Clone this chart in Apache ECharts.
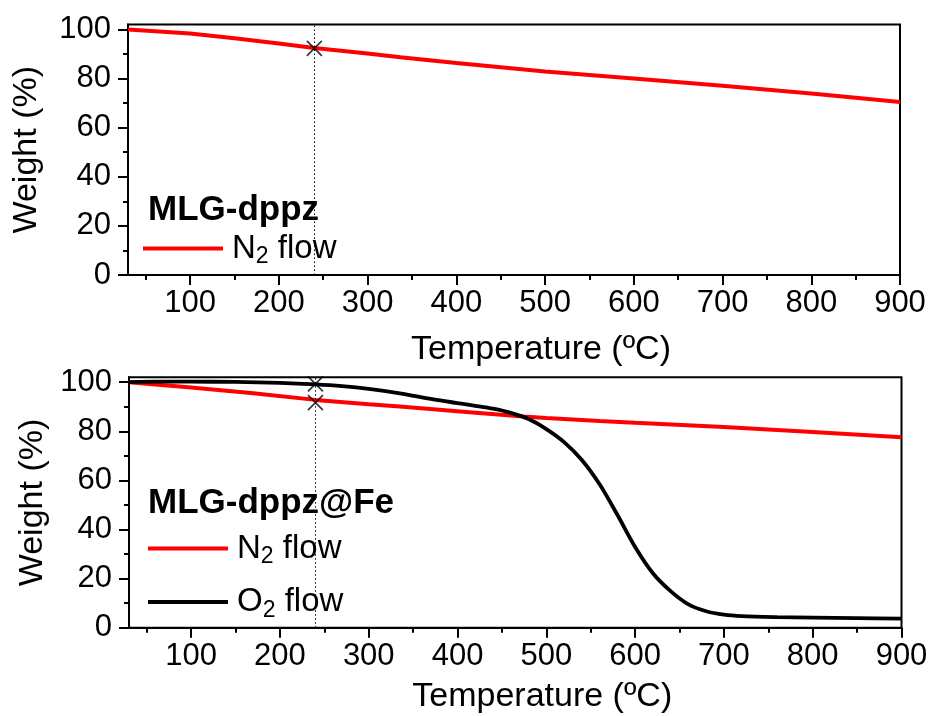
<!DOCTYPE html>
<html><head><meta charset="utf-8">
<script src="https://cdn.jsdelivr.net/npm/echarts@6/dist/echarts.min.js"></script>
<style>html,body{margin:0;padding:0;background:#fff}#c{width:931px;height:716px}</style>
</head><body><div id="c"></div>
<script>
// ---- data ----
const xTicks = [100, 200, 300, 400, 500, 600, 700, 800, 900];
const xMinorTicks = [50, 150, 250, 350, 450, 550, 650, 750, 850];
const yTicks = [0, 20, 40, 60, 80, 100];
const yMinorTicks = [10, 30, 50, 70, 90];

const topN2Temp   = [30, 100, 150, 200, 240, 300, 337, 400, 500, 600, 700, 800, 900];
const topN2Weight = [100, 98.3, 96.4, 94.3, 92.4, 90.2, 88.7, 86.3, 82.9, 80.0, 77.1, 73.9, 70.4];

const botN2Temp   = [30, 100, 170, 240, 300, 335, 410, 474, 500, 560, 600, 602, 700, 800, 900];
const botN2Weight = [100, 97.8, 95.5, 92.8, 91.0, 90.1, 87.9, 86.0, 85.4, 84.2, 83.5, 84.1, 81.8, 79.7, 77.6];

const botO2Temp   = [30, 60, 100, 150, 200, 240, 270, 300, 335, 373, 400, 420, 440, 460, 480, 500, 520, 540, 560, 580, 600, 620, 640, 660, 680, 700, 720, 760, 800, 850, 900];
const botO2Weight = [100, 100.2, 100.2, 100.1, 99.7, 99.1, 98.4, 97.3, 95.5, 93.0, 91.5, 90.4, 89.2, 87.5, 85.0, 80.9, 75.6, 68.3, 58.4, 46.0, 32.9, 22.2, 14.9, 9.5, 6.7, 5.3, 4.7, 4.3, 4.1, 3.9, 3.7];

const markTemp = 240;
const topMarkWeights = [92.3];
const botMarkWeights = [99.3, 91.7];

const xMin = 30, xMax = 900, yMin = 0, yMax = 102;

// ---- build ----
const FONT = "'Liberation Sans', Arial, sans-serif";
const pairs = (xs, ys) => xs.map((x, i) => [x, ys[i]]);

function xAxes(gridIndex, nameGap, namePad) {
  return [
    { type: 'value', gridIndex, min: xMin, max: xMax, position: 'bottom',
      name: 'Temperature (ºC)', nameLocation: 'middle', nameGap,
      nameTextStyle: { fontSize: 34, color: '#000', fontFamily: FONT, padding: namePad },
      axisLine: { show: true, onZero: false, lineStyle: { color: '#000', width: 2 } },
      axisTick: { show: true, inside: false, length: 10, customValues: xTicks, lineStyle: { color: '#000', width: 2 } },
      axisLabel: { customValues: xTicks, fontSize: 31, color: '#000', fontFamily: FONT, margin: 13 },
      splitLine: { show: false } },
    { type: 'value', gridIndex, min: xMin, max: xMax, position: 'bottom',
      axisLine: { show: false, onZero: false },
      axisTick: { show: true, inside: false, length: 5, customValues: xMinorTicks, lineStyle: { color: '#000', width: 2 } },
      axisLabel: { show: false }, splitLine: { show: false } }
  ];
}
function yAxes(gridIndex, nameGap) {
  return [
    { type: 'value', gridIndex, min: yMin, max: yMax, position: 'left',
      name: 'Weight (%)', nameLocation: 'middle', nameGap, nameRotate: 90,
      nameTextStyle: { fontSize: 34, color: '#000', fontFamily: FONT },
      axisLine: { show: true, onZero: false, lineStyle: { color: '#000', width: 2 } },
      axisTick: { show: true, inside: false, length: 10, customValues: yTicks, lineStyle: { color: '#000', width: 2 } },
      axisLabel: { customValues: yTicks, fontSize: 31, color: '#000', fontFamily: FONT, margin: 17 },
      splitLine: { show: false } },
    { type: 'value', gridIndex, min: yMin, max: yMax, position: 'left',
      axisLine: { show: false, onZero: false },
      axisTick: { show: true, inside: false, length: 5, customValues: yMinorTicks, lineStyle: { color: '#000', width: 2 } },
      axisLabel: { show: false }, splitLine: { show: false } }
  ];
}

const markLine = {
  silent: true, symbol: 'none', label: { show: false },
  lineStyle: { type: [1.5, 2.5], color: '#000', width: 1 },
  data: [{ xAxis: markTemp }]
};
const xSymbol = 'path://M0,0L10,10M10,0L0,10';
const markerStyle = { color: 'none', borderColor: '#000', borderWidth: 1.6 };

const legendRich = {
  a0: { fontSize: 33, lineHeight: 40, color: '#000', fontFamily: FONT, padding: [0, 0, 0, 4] },
  a: { fontSize: 33, lineHeight: 40, color: '#000', fontFamily: FONT },
  s: { fontSize: 23, lineHeight: 14, verticalAlign: 'bottom', color: '#000', fontFamily: FONT }
};
const legendFmt = name => name === 'N2 flow' ? '{a0|N}{s|2}{a| flow}' : '{a0|O}{s|2}{a| flow}';

const option = {
  backgroundColor: '#fff',
  animation: false,
  title: [
    { text: 'MLG-dppz', left: 148, top: 193, padding: 0,
      textStyle: { fontSize: 35, fontWeight: 'bold', color: '#000', fontFamily: FONT } },
    { text: 'MLG-dppz@Fe', left: 148, top: 486, padding: 0,
      textStyle: { fontSize: 35, fontWeight: 'bold', color: '#000', fontFamily: FONT } }
  ],
  legend: [
    { data: ['N2 flow'], left: 143, top: 232, padding: 0, icon: 'rect', itemWidth: 80, itemHeight: 4,
      formatter: legendFmt, textStyle: { rich: legendRich }, selectedMode: false },
    { data: ['N2 flow', 'O2 flow'], orient: 'vertical', left: 148, top: 532, padding: 0, itemGap: 17,
      icon: 'rect', itemWidth: 80, itemHeight: 4,
      formatter: legendFmt, textStyle: { rich: legendRich }, selectedMode: false }
  ],
  grid: [
    { left: 128, top: 24.5, width: 772, height: 250.5, show: true, borderColor: '#000', borderWidth: 2, backgroundColor: 'transparent' },
    { left: 129, top: 377.3, width: 772.5, height: 250.4, show: true, borderColor: '#000', borderWidth: 2, backgroundColor: 'transparent' }
  ],
  xAxis: [...xAxes(0, 58, [0, 0, 0, 54]), ...xAxes(1, 52, [0, 0, 0, 54])],
  yAxis: [...yAxes(0, 84), ...yAxes(1, 78)],
  series: [
    { name: 'N2 flow', type: 'line', xAxisIndex: 0, yAxisIndex: 0, data: pairs(topN2Temp, topN2Weight),
      showSymbol: false, smooth: false, lineStyle: { color: '#ff0000', width: 4 }, itemStyle: { color: '#ff0000' },
      markLine, z: 3 },
    { name: 'mark-top', type: 'scatter', xAxisIndex: 0, yAxisIndex: 0,
      data: topMarkWeights.map(w => [markTemp, w]), symbol: xSymbol, symbolSize: [15, 15],
      itemStyle: markerStyle, z: 5 },
    { name: 'N2 flow', type: 'line', xAxisIndex: 2, yAxisIndex: 2, data: pairs(botN2Temp, botN2Weight),
      showSymbol: false, smooth: false, lineStyle: { color: '#ff0000', width: 4 }, itemStyle: { color: '#ff0000' },
      markLine, z: 3 },
    { name: 'O2 flow', type: 'line', xAxisIndex: 2, yAxisIndex: 2, data: pairs(botO2Temp, botO2Weight),
      showSymbol: false, smooth: 0.3, lineStyle: { color: '#000', width: 3.8 }, itemStyle: { color: '#000' },
      z: 4 },
    { name: 'mark-bot', type: 'scatter', xAxisIndex: 2, yAxisIndex: 2,
      data: botMarkWeights.map(w => [markTemp, w]), symbol: xSymbol, symbolSize: [15, 15],
      itemStyle: markerStyle, z: 5 }
  ]
};

const chart = echarts.init(document.getElementById('c'), null, { renderer: 'canvas' });
chart.setOption(option);
</script>
</body></html>
